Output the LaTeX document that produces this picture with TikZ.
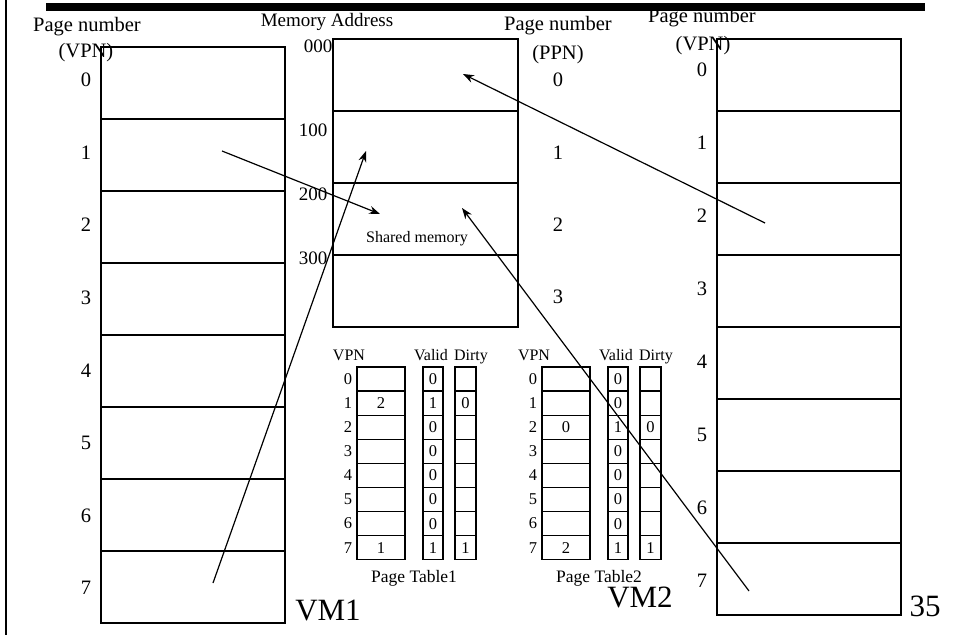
\documentclass[tikz,border=0pt]{standalone}
\usepackage{fontspec}
\setmainfont{Liberation Serif}
\usetikzlibrary{arrows.meta}
\begin{document}
\begin{tikzpicture}[x=1pt,y=-1pt,
  cell/.style={draw,line width=1.3pt,inner sep=0pt,outer sep=0pt,anchor=north west},
  pagebox/.style={cell,minimum width=184pt,minimum height=72pt},
  membox/.style={cell,minimum width=185pt,minimum height=72pt},
  lbl/.style={inner sep=0pt,font=\fontsize{20.5}{20.5}\selectfont},
  addr/.style={inner sep=0pt,font=\fontsize{19}{19}\selectfont},
  small/.style={inner sep=0pt,font=\fontsize{16.5}{16.5}\selectfont},
  tblhead/.style={inner sep=0pt,anchor=base,font=\fontsize{16}{16}\selectfont},
  tiny/.style={inner sep=0pt,font=\fontsize{16}{16}\selectfont},
  ptname/.style={inner sep=0pt,font=\fontsize{17.5}{17.5}\selectfont},
  big/.style={inner sep=0pt,font=\fontsize{31}{31}\selectfont},
  arr/.style={line width=1.2pt,-{Stealth[length=11pt,width=8pt]}}
]
\useasboundingbox (0,0) rectangle (959,635);
% frame decorations
\draw[line width=2.5pt] (6,0) -- (6,635);
\fill (46,3) rectangle (925,11);

% VM1
\node[lbl] (vmahead) at (87,27) {Page number};
\node[lbl] (vmavpn) at (86,53) {(VPN)};
\foreach \i in {0,...,7} {
  \node[pagebox] (vma\i) at (101,{47+72*\i}) {};
  \node[lbl] (vman\i) at (86,{80+72.6*\i}) {\i};
}
\node[big] (vm1lbl) at (328,610) {VM1};

% Memory
\node[addr] (memhead) at (327,22) {Memory Address};
\foreach \i in {0,...,3} {
  \node[membox] (mem\i) at (333,{39+72*\i}) {};
  \node[lbl] (ppnn\i) at (558,{80+72.3*\i}) {\i};
}
\node[addr] (ad0) at (318,46) {000};
\node[addr] (ad1) at (313,130) {100};
\node[addr] (ad2) at (313,194) {200};
\node[addr] (ad3) at (313,258) {300};
\node[tiny] (shm) at (417,239) {Shared memory};
\node[lbl] (ppnhead) at (558,26) {Page number};
\node[lbl] (ppnppn) at (558,55) {(PPN)};

% VM2
\node[lbl] (vmbhead) at (702,18) {Page number};
\node[lbl] (vmbvpn) at (703,46) {(VPN)};
\foreach \i in {0,...,7} {
  \node[pagebox] (vmb\i) at (717,{39+72*\i}) {};
  \node[lbl] (vmbn\i) at (702,{70+73*\i}) {\i};
}
\node[big] (vm2lbl) at (640,597) {VM2};
\node[inner sep=0pt,font=\fontsize{31}{31}\selectfont] (pgno) at (925,606) {35};

% Page tables
\foreach \t/\dx in {1/0,2/185} {
  \node[tblhead] (pt\t vpn) at ({349+\dx},360) {VPN};
  \node[tblhead] (pt\t valid) at ({431+\dx},360) {Valid};
  \node[tblhead] (pt\t dirty) at ({471+\dx},360) {Dirty};
  \node[ptname] (pt\t name) at ({414+\dx},578) {Page Table\t};
  \foreach \i in {0,...,7} {
    \node[small] (pt\t n\i) at ({348+\dx},{379+24.1*\i}) {\i};
    \node[cell,minimum width=48pt,minimum height=24.1pt] (pt\t p\i) at ({357+\dx},{367+24.1*\i}) {};
    \node[cell,minimum width=20pt,minimum height=24.1pt] (pt\t v\i) at ({423+\dx},{367+24.1*\i}) {};
    \node[cell,minimum width=21pt,minimum height=24.1pt] (pt\t d\i) at ({455+\dx},{367+24.1*\i}) {};
  }
}
% table contents
\foreach \i/\v in {0/0,1/1,2/0,3/0,4/0,5/0,6/0,7/1} {
  \node[small] at (pt1v\i.center) {\v};
}
\foreach \i/\v in {0/0,1/0,2/1,3/0,4/0,5/0,6/0,7/1} {
  \node[small] at (pt2v\i.center) {\v};
}
\node[small] at (pt1p1.center) {2};
\node[small] at (pt1d1.center) {0};
\node[small] at (pt1p7.center) {1};
\node[small] at (pt1d7.center) {1};
\node[small] at (pt2p2.center) {0};
\node[small] at (pt2d2.center) {0};
\node[small] at (pt2p7.center) {2};
\node[small] at (pt2d7.center) {1};

% arrows
\coordinate (a1s) at (222,151);
\coordinate (a1e) at (380,214);
\coordinate (a2s) at (213,583);
\coordinate (a2e) at (366,151);
\coordinate (a3s) at (765,223);
\coordinate (a3e) at (463,74);
\coordinate (a4s) at (749,591);
\coordinate (a4e) at (462,208);
\draw[arr] (a1s) -- (a1e);
\draw[arr] (a2s) -- (a2e);
\draw[arr] (a3s) -- (a3e);
\draw[arr] (a4s) -- (a4e);
\end{tikzpicture}
\end{document}
